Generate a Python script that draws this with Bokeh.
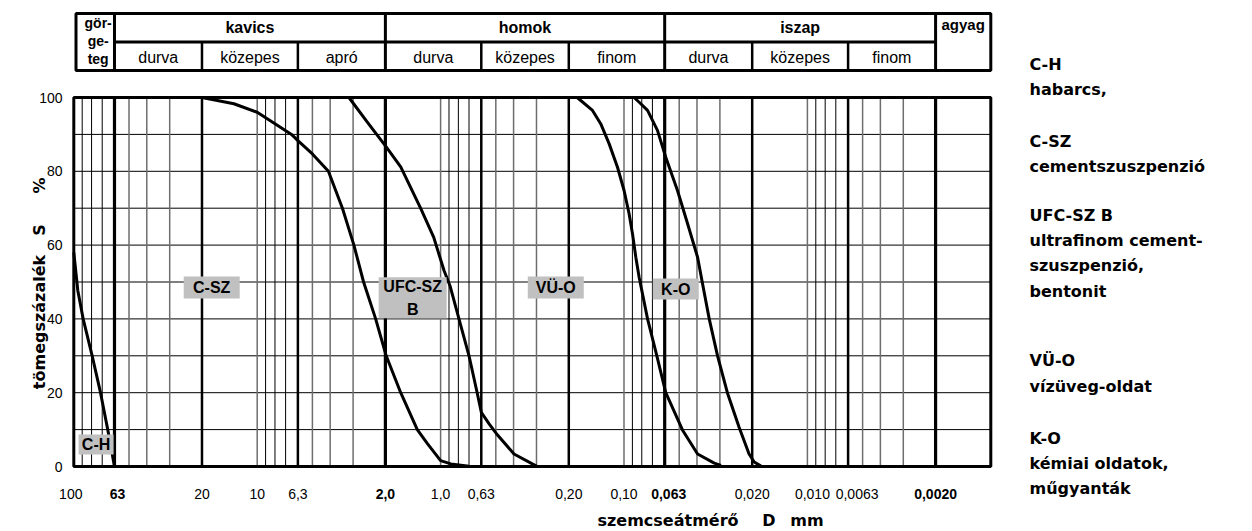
from bokeh.plotting import figure
from bokeh.models import Range1d
from bokeh.embed import file_html
from bokeh.resources import INLINE
from bokeh.core.properties import value

# ---------------- data (grain diameter D in mm, passing S in %) ----------------
ch_d = [100, 95.1, 88.9, 79.4, 71.5, 65.3, 60]
ch_s = [58, 47.7, 40, 30, 20, 10, 0]

csz_d = [20.0, 13.4, 10.0, 8.0, 6.5, 6.0, 5.0, 4.09, 3.43, 2.97, 2.63, 2.26, 1.98,
         1.65, 1.34, 1.18, 1.0, 0.88, 0.70]
csz_s = [100, 98.3, 96.0, 92.9, 90.0, 88.3, 84.7, 80.0, 70.0, 60.0, 50.0, 40.0, 30.0,
         20.0, 10.0, 6.2, 1.6, 0.7, 0.1]

ufc_d = [3.16, 2.51, 1.98, 1.65, 1.28, 1.09, 0.958, 0.889, 0.794, 0.70, 0.632, 0.60,
         0.545, 0.496, 0.398, 0.30]
ufc_s = [100, 93.3, 86.6, 81.2, 69.8, 62.1, 53.1, 49.0, 40.0, 30.0, 20.0, 14.7,
         11.6, 8.9, 3.4, 0.1]

vuo_d = [0.18, 0.1485, 0.134, 0.1206, 0.1085, 0.0999, 0.0938, 0.0899, 0.0862, 0.0827,
         0.0744, 0.0662, 0.0592, 0.048, 0.0397, 0.0322, 0.0296]
vuo_s = [100, 96.5, 92.9, 87.5, 81.1, 74.8, 68.5, 63.1, 56.7, 51.3,
         40.0, 30.0, 20.0, 9.9, 3.4, 0.9, 0.3]

ko_d = [0.0881, 0.081, 0.0744, 0.0657, 0.0592, 0.0511, 0.045, 0.0397, 0.0373, 0.0343,
        0.0309, 0.0272, 0.0236, 0.0208, 0.0195, 0.0179]
ko_s = [100, 98.3, 96.5, 91.1, 83.8, 74.8, 65.8, 56.7, 49.5, 40.0,
        30.0, 19.7, 10.7, 3.4, 1.2, 0.1]

# header classification
class_bounds = [60, 2, 0.06, 0.002]
class_names = ["kavics", "homok", "iszap"]
sub_bounds = [60, 20, 6, 2, 0.6, 0.2, 0.06, 0.02, 0.006, 0.002]
sub_names = ["durva", "közepes", "apró", "durva", "közepes", "finom",
             "durva", "közepes", "finom"]
sub_inner = [20, 6, 0.6, 0.2, 0.02, 0.006]

# axis ticks
D_MAX, D_MIN = 100, 0.001
S_MIN, S_MAX = 0, 100
y_ticks = [0, 20, 40, 60, 80, 100]
y_grid = [10, 20, 30, 40, 50, 60, 70, 80, 90]
x_tick_vals = [100, 60, 20, 10, 6, 2, 1, 0.6, 0.2, 0.1, 0.06, 0.02, 0.01, 0.006, 0.002]
x_tick_text = ["100", "63", "20", "10", "6,3", "2,0", "1,0", "0,63", "0,20", "0,10",
               "0,063", "0,020", "0,010", "0,0063", "0,0020"]
x_tick_bold = [False, True, False, False, False, True, False, False, False, False,
               True, False, False, False, True]
x_tick_shift = [-3, 3, 0, 0, 0, 0, 0, 0, 0, 0, 4, 0, 5, 9, 0]

grid_dark = [90, 80, 70, 9, 8, 7, 0.9, 0.8, 0.7, 0.09, 0.08, 0.07, 0.009, 0.008, 0.007]
grid_gray = [50, 40, 30, 10, 5, 4, 3, 1, 0.5, 0.4, 0.3, 0.1, 0.05, 0.04, 0.03,
             0.01, 0.005, 0.004, 0.003]

curve_names = ["C-H", "C-SZ", "UFC-SZ\nB", "VÜ-O", "K-O"]

y_title = ["tömegszázalék", "S", "%"]
x_title = ["szemcseátmérő", "D", "mm"]

legend_lines = ["C-H", "habarcs,", "C-SZ", "cementszuszpenzió", "UFC-SZ B",
                "ultrafinom cement-", "szuszpenzió,", "bentonit", "VÜ-O",
                "vízüveg-oldat", "K-O", "kémiai oldatok,", "műgyanták"]

SANS = "Liberation Sans"
BOLD = "DejaVu Sans"
W, H = 1252, 531

# layout helpers: pixel position on the page -> coordinates of the log/linear scales
K = 183.4      # pixels per decade
X0 = 73.3      # page x of D = 100 mm
Y0 = 466.0     # page y of S = 0 %
PY = 3.69      # pixels per percent


def dx(px):
    return 10 ** (2 - (px - X0) / K)


def sy(py):
    return (Y0 - py) / PY


p = figure(width=W, height=H, x_axis_type="log",
           x_range=Range1d(dx(0), dx(W)), y_range=Range1d(sy(H), sy(0)),
           x_axis_location=None, y_axis_location=None, toolbar_location=None,
           output_backend="svg", min_border_left=0, min_border_right=0,
           min_border_top=0, min_border_bottom=0, title=None)
p.grid.visible = False
p.outline_line_color = None
p.background_fill_color = "white"
p.border_fill_color = "white"

# ---------------- header table ----------------
h_bot, h_mid, h_top = sy(70), sy(41.5), sy(13)
h_ext = sy(71.5)
p.segment(x0=class_bounds, y0=[h_ext] * 4, x1=class_bounds, y1=[h_top] * 4,
          line_color="black", line_width=3)
p.segment(x0=sub_inner, y0=[h_ext] * 6, x1=sub_inner, y1=[h_mid] * 6,
          line_color="black", line_width=2.5)
p.segment(x0=[class_bounds[0]], y0=[h_mid], x1=[class_bounds[-1]], y1=[h_mid],
          line_color="black", line_width=3)
p.quad(left=[dx(75.5)], right=[D_MIN], bottom=[h_bot], top=[h_top],
       fill_color=None, line_color="black", line_width=3)

cls_x = [(class_bounds[i] * class_bounds[i + 1]) ** 0.5 for i in range(3)]
p.text(x=cls_x, y=[sy(27)] * 3, text=class_names, text_font=value(SANS),
       text_font_size="16px", text_font_style="bold", text_align="center",
       text_baseline="middle", text_color="black")
sub_x = [(sub_bounds[i] * sub_bounds[i + 1]) ** 0.5 for i in range(9)]
p.text(x=sub_x, y=[sy(56.5)] * 9, text=sub_names, text_font=value(SANS),
       text_font_size="16px", text_align="center", text_baseline="middle",
       text_color="black")
gx = (D_MAX * class_bounds[0]) ** 0.5
p.text(x=[gx] * 3, y=[sy(22.5), sy(40.5), sy(58.5)], text=["gör-", "ge-", "teg"],
       text_font=value(SANS), text_font_size="14px", text_font_style="bold",
       text_align="center", text_baseline="middle", text_color="black", x_offset=4)
p.text(x=[(class_bounds[-1] * D_MIN) ** 0.5], y=[sy(24)], text=["agyag"],
       text_font=value(SANS), text_font_size="15px", text_font_style="bold",
       text_align="center", text_baseline="middle", text_color="black")

# ---------------- grid ----------------
p.segment(x0=[D_MAX] * len(y_grid), y0=y_grid, x1=[D_MIN] * len(y_grid), y1=y_grid,
          line_color="black", line_width=1)
p.segment(x0=grid_gray, y0=[S_MIN] * len(grid_gray), x1=grid_gray,
          y1=[S_MAX] * len(grid_gray), line_color="#6e6e6e", line_width=1.5)
p.segment(x0=grid_dark, y0=[S_MIN] * len(grid_dark), x1=grid_dark,
          y1=[S_MAX] * len(grid_dark), line_color="black", line_width=1)
p.segment(x0=sub_inner, y0=[S_MIN] * 6, x1=sub_inner, y1=[S_MAX] * 6,
          line_color="black", line_width=2.5)
p.segment(x0=class_bounds, y0=[S_MIN] * 4, x1=class_bounds, y1=[S_MAX] * 4,
          line_color="black", line_width=3.2)
p.quad(left=[D_MAX], right=[D_MIN], bottom=[S_MIN], top=[S_MAX],
       fill_color=None, line_color="black", line_width=3)

# ---------------- curves ----------------
for d, s in [(ch_d, ch_s), (csz_d, csz_s), (ufc_d, ufc_s), (vuo_d, vuo_s), (ko_d, ko_s)]:
    p.line(d, s, line_color="black", line_width=3, line_join="round")

# grey name boxes
box_x = [75.6, 17.7, 1.42, 0.2355, 0.0522]
box_y = [5.96, 48.5, 45.7, 48.5, 48.1]
box_w = [35, 56, 68, 56, 46]
box_h = [20, 22, 41, 22, 21]
p.rect(x=box_x, y=box_y, width=box_w, height=box_h, width_units="screen",
       height_units="screen", fill_color="#c0c0c0", line_color=None)
p.text(x=box_x, y=box_y, text=curve_names, text_font=value(SANS), text_font_size="16px",
       text_font_style="bold", text_align="center", text_baseline="middle",
       text_color="black", text_line_height=1.35)

# ---------------- tick labels ----------------
p.text(x=[dx(62)] * len(y_ticks), y=y_ticks, text=[str(t) for t in y_ticks],
       text_font=value(SANS), text_font_size="14px", text_align="right",
       text_baseline="middle", text_color="black")
for v, t, b, sh in zip(x_tick_vals, x_tick_text, x_tick_bold, x_tick_shift):
    p.text(x=[v], y=[sy(493)], text=[t], x_offset=sh, text_font=value(SANS),
           text_font_size="14px", text_font_style="bold" if b else "normal",
           text_align="center", text_baseline="middle", text_color="black")

# axis titles (word groups spaced apart as in the original)
p.text(x=[dx(38.5)] * 3, y=[sy(321.5), sy(229.5), sy(185)], text=y_title, angle=90,
       angle_units="deg", text_font=value(BOLD), text_font_size="16px",
       text_font_style="bold", text_align="center", text_baseline="middle",
       text_color="black")
p.text(x=[dx(597)], y=[sy(520)], text=[x_title[0]], text_font=value(BOLD),
       text_font_size="16px", text_font_style="bold", text_align="left",
       text_baseline="middle", text_color="black")
p.text(x=[dx(768.5), dx(806.5)], y=[sy(520)] * 2, text=x_title[1:],
       text_font=value(BOLD), text_font_size="16px", text_font_style="bold",
       text_align="center", text_baseline="middle", text_color="black")

# legend text at the right
leg_py = [64, 89, 141, 166, 215, 240, 265, 291, 360, 386, 438, 463, 488]
p.text(x=[dx(1029)] * len(legend_lines), y=[sy(v) for v in leg_py], text=legend_lines,
       text_font=value(BOLD), text_font_size="16px", text_font_style="bold",
       text_align="left", text_baseline="middle", text_color="black")

open("out.html", "w").write(file_html(p, INLINE))
